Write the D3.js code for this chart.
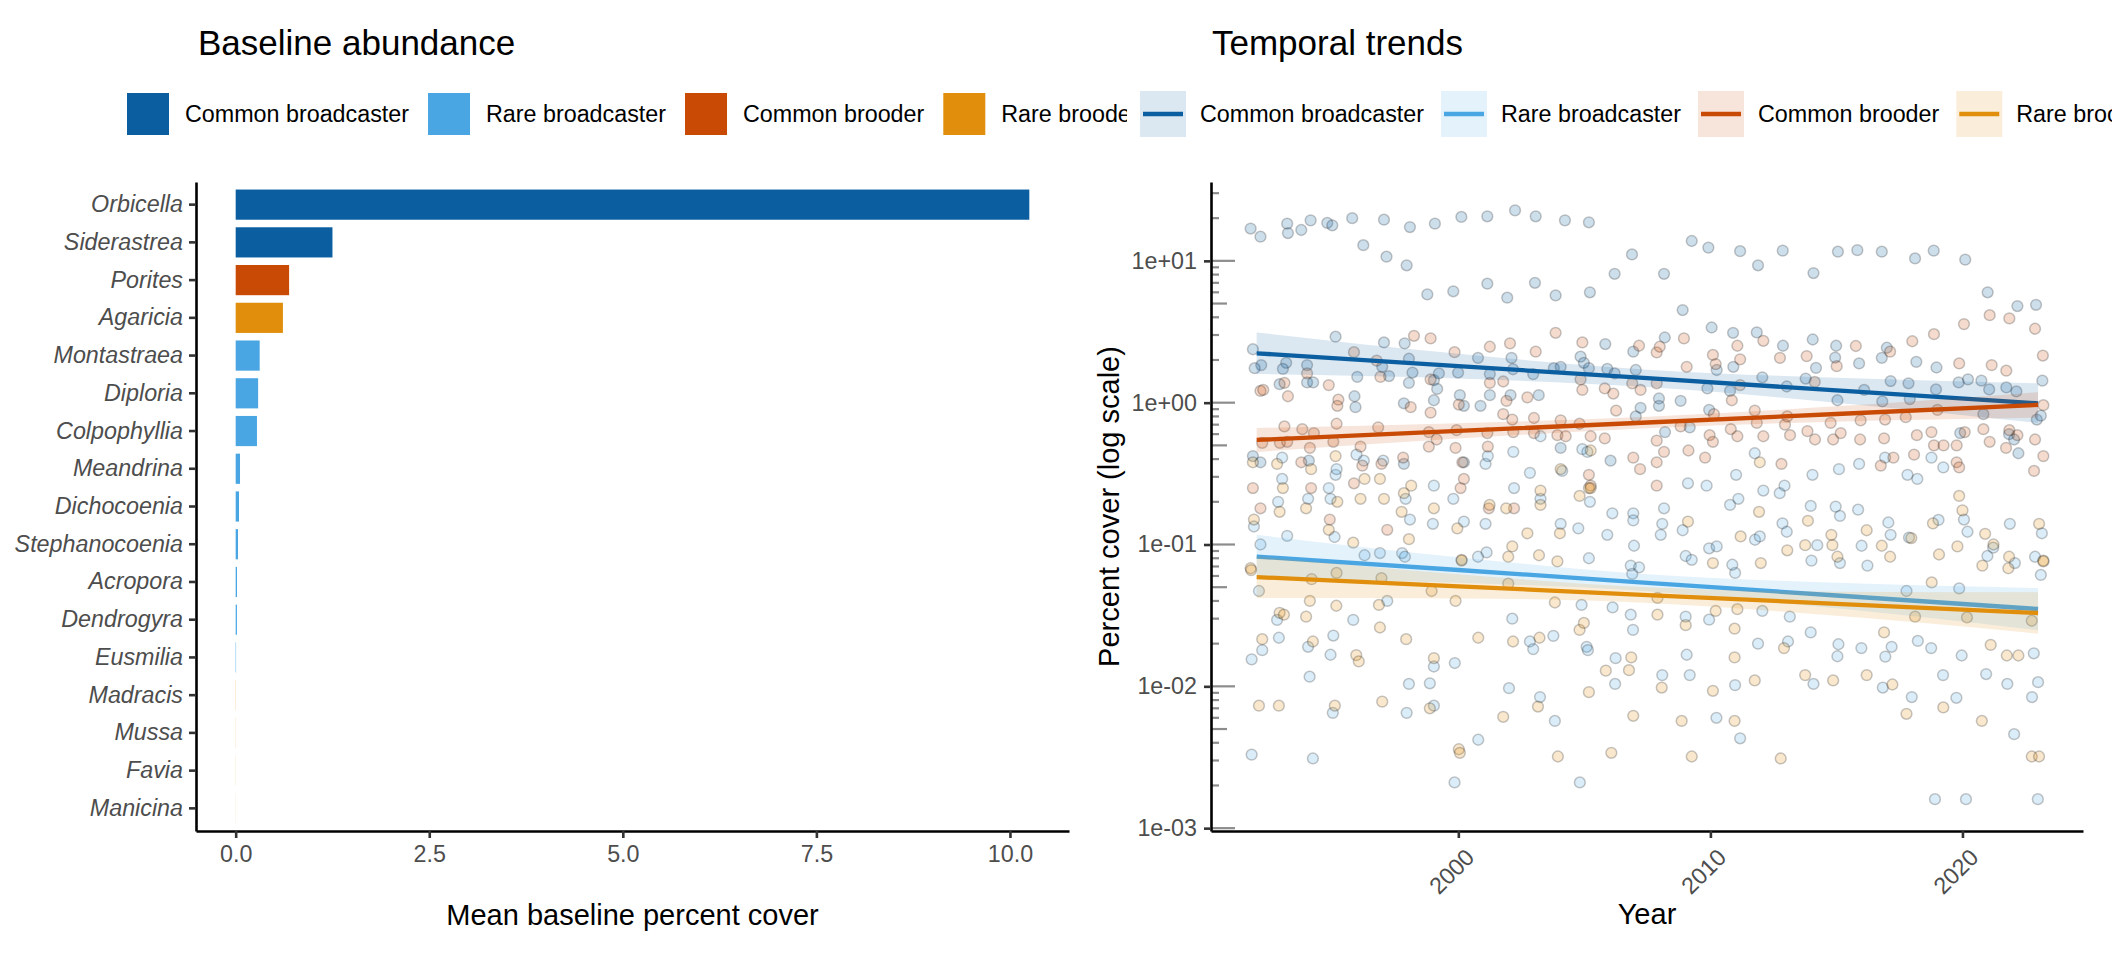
<!DOCTYPE html>
<html>
<head>
<meta charset="utf-8">
<script src="https://cdn.jsdelivr.net/npm/d3@7"></script>
<style>
  body { margin: 0; background: #fff; }
  text { font-family: "Liberation Sans", Arial, Helvetica, sans-serif; }
</style>
</head>
<body>
<svg id="chart"></svg>
<script>
// ---- data ----
var groups = ["Common broadcaster", "Rare broadcaster", "Common brooder", "Rare brooder"];

var genera = ["Orbicella", "Siderastrea", "Porites", "Agaricia", "Montastraea", "Diploria",
  "Colpophyllia", "Meandrina", "Dichocoenia", "Stephanocoenia", "Acropora", "Dendrogyra",
  "Eusmilia", "Madracis", "Mussa", "Favia", "Manicina"];
var baselineCover = [10.25, 1.25, 0.69, 0.61, 0.31, 0.29, 0.275, 0.056, 0.043, 0.03, 0.017,
  0.016, 0.005, 0.002, 0.0015, 0.0012, 0.001];
var generaGroup = ["Common broadcaster", "Common broadcaster", "Common brooder", "Rare brooder",
  "Rare broadcaster", "Rare broadcaster", "Rare broadcaster", "Rare broadcaster", "Rare broadcaster",
  "Rare broadcaster", "Rare broadcaster", "Rare broadcaster", "Rare broadcaster",
  "Rare brooder", "Rare brooder", "Rare brooder", "Rare brooder"];
var barTicks = [0, 2.5, 5, 7.5, 10];

// [year, percent cover]
var ptsCommonBroadcaster = [
  [1991.76,16.9],[1992.15,14.8],[1993.21,18.3],[1993.24,15.7],[1993.77,16.5],[1994.14,19.3],[1994.8,18.5],
  [1995.0,17.8],[1995.79,20.0],[1996.23,12.9],[1997.05,19.5],[1997.15,10.7],[1997.95,9.3],[1998.08,17.3],
  [1998.77,5.8],[1999.07,18.3],[1999.8,6.1],[2000.12,20.4],[2001.15,20.6],[2001.15,6.9],[2001.94,5.5],
  [2002.25,22.7],[2003.07,20.6],[2003.04,7.0],[2003.86,5.7],[2004.23,19.3],[2005.18,18.7],[2005.22,6.0],
  [2006.2,8.1],[2006.89,11.1],[2008.16,8.1],[2008.9,4.5],[2009.26,13.8],[2009.92,12.4],[2011.18,11.7],
  [2011.89,9.3],[2012.87,11.8],[2014.09,8.2],[2015.06,11.6],[2015.83,11.9],[2016.8,11.6],[2018.12,10.4],
  [2018.86,11.8],[2020.11,10.2],[2021.0,6.0],[2022.18,4.8],[2022.92,4.9],
  [1995.13,2.92],[1991.85,2.38],[1992.18,1.84],[1991.92,1.75],[1993.17,1.91],[1993.04,1.73],[1994.0,1.84],
  [1994.0,1.39],[1994.24,1.39],[1992.91,1.35],[1995.99,1.52],[1995.88,1.11],[1995.92,0.93],[1997.05,2.66],
  [1996.98,1.79],[1997.25,1.54],[1997.87,2.62],[1998.04,2.04],[1998.18,1.63],[1998.04,1.38],[1997.84,0.99],
  [1999.03,1.44],[1999.16,1.25],[1999.03,1.04],[1999.23,1.61],[1999.99,1.63],[2000.06,1.13],[2000.22,0.95],
  [2000.78,2.07],[2001.25,1.59],[2001.25,1.13],[2000.88,0.95],[2002.11,2.07],[2002.17,1.72],[2002.07,1.13],
  [2002.97,1.59],[2003.19,1.13],[2003.79,1.75],[2004.06,1.79],[2004.85,2.11],[2004.98,1.91],[2005.18,1.75],
  [1991.85,0.42],[1992.15,0.38],[1994.07,0.39],[1997.84,0.37],[2000.22,0.38],[2004.06,0.48],[2006.04,0.39],
  [2005.83,2.59],[2006.94,2.29],[2008.19,2.88],[2010.05,3.39],[2010.9,3.11],[2011.84,3.13],[2012.88,2.52],
  [2014.06,2.79],[2014.99,2.52],[2014.95,2.08],[2016.8,2.07],[2017.0,2.44],[2018.17,1.94],[2018.97,1.77],
  [2015.9,1.89],[2019.85,1.39],[2020.22,1.46],[2020.75,1.43],[2021.06,1.24],[2021.74,1.28],[2022.14,1.2],
  [2023.17,1.43],[2017.86,1.37],[2017.15,1.42],[2005.91,1.73],[2007.04,1.7],[2006.2,1.61],[2007.96,1.07],
  [2007.96,0.95],[2007.23,0.92],[2007.04,0.8],[2008.82,1.03],[2008.2,0.62],[2009.18,0.67],[2009.95,0.89],
  [2009.88,1.26],[2010.25,1.7],[2010.91,1.79],[2010.78,1.21],[2012.06,1.51],[2013.03,1.3],[2013.78,1.48],
  [2014.19,1.76],[2015.04,1.04],[2016.1,1.23],[2016.82,1.02],[2017.91,1.06],[2018.95,1.24],[2019.91,0.61],
  [2020.83,0.83],[2022.95,0.76],[2023.11,0.81],[2021.85,0.6],[2022.05,0.55],[2022.22,0.44]
];

var ptsRareBroadcaster = [
  [1992.85,0.2],[1994.04,0.21],[1994.86,0.25],[1994.93,0.21],[1997.91,0.21],[1999.03,0.26],[1999.8,0.21],
  [2002.21,0.25],[2003.26,0.21],[2005.22,0.2],[1993.21,0.115],[1995.09,0.113],[1998.08,0.15],[1998.99,0.14],
  [2000.22,0.145],[2001.08,0.14],[2004.06,0.14],[2004.76,0.13],[1991.89,0.134],[1992.15,0.1],[1993.01,0.29],
  [1993.01,0.41],[1995.13,0.31],[1996.28,0.084],[1996.89,0.087],[1997.77,0.087],[1997.88,0.082],[2001.12,0.088],
  [2000.78,0.082],[2005.18,0.08],[1995.96,0.43],[1996.25,0.39],[1997.02,0.39],[2001.08,0.37],[2001.17,0.42],
  [2002.18,0.45],[2002.84,0.32],[2003.26,0.58],[2004.12,0.33],[2004.92,0.47],[2005.12,0.45],[1995.17,0.34],
  [1992.09,0.047],[1992.81,0.0294],[1991.8,0.0155],[1992.22,0.018],[1992.88,0.022],[1994.04,0.019],
  [1994.1,0.0117],[1995.04,0.0228],[1994.93,0.0167],[1995.83,0.0294],[1995.02,0.0065],[1997.18,0.04],
  [1998.04,0.0104],[1997.95,0.0065],[1998.87,0.0105],[1999.03,0.0138],[1999.03,0.0073],[1999.86,0.0146],
  [2000.79,0.0042],[1999.85,0.0021],[2002.14,0.03],[2002.01,0.0097],[2002.84,0.0207],[2002.97,0.0183],
  [2003.24,0.0084],[2003.77,0.0227],[2003.83,0.0057],[2004.89,0.0375],[2005.09,0.019],[2005.14,0.018],
  [2004.82,0.0021],[1991.8,0.0033],[1994.23,0.0031],
  [2006.84,0.071],[2007.17,0.069],[2006.9,0.062],[2006.12,0.036],[2006.84,0.032],[2006.93,0.025],
  [2006.24,0.0158],[2006.22,0.0104],[2008.09,0.012],[2009.18,0.012],[2009.02,0.031],[2009.95,0.0295],
  [2009.06,0.0167],[2010.98,0.0102],[2010.24,0.006],[2011.18,0.0043],[2011.89,0.02],[2012.06,0.034],
  [2013.15,0.031],[2013.08,0.0207],[2013.98,0.024],[2014.09,0.0104],[2015.08,0.0198],[2015.04,0.0163],
  [2015.99,0.0186],[2017.19,0.019],[2016.94,0.0162],[2016.84,0.0098],[2017.99,0.0084],[2018.23,0.0209],
  [2018.76,0.0186],[2019.23,0.012],[2019.76,0.0083],[2019.97,0.0165],[2020.94,0.0122],[2021.78,0.0104],
  [2022.05,0.0046],[2022.76,0.0084],[2023.0,0.0107],[2022.83,0.0171],[2023.11,0.061],[2018.91,0.0016],
  [2020.14,0.0016],[2022.99,0.0016],[2019.87,0.049],[2017.78,0.047],[2014.01,0.077],[2015.14,0.074],
  [2016.23,0.071],[2010.98,0.063],[2010.87,0.072],
  [2006.11,0.166],[2006.94,0.166],[2006.94,0.148],[2005.91,0.117],[2006.97,0.098],[2008.16,0.18],
  [2008.09,0.14],[2008.03,0.117],[2008.9,0.126],[2009.02,0.083],[2009.26,0.078],[2009.95,0.094],
  [2010.25,0.097],[2010.78,0.19],[2011.77,0.108],[2011.96,0.114],[2012.86,0.141],[2013.03,0.123],
  [2013.98,0.187],[2014.24,0.099],[2014.97,0.185],[2015.14,0.159],[2015.86,0.176],[2016.0,0.098],
  [2017.06,0.143],[2017.15,0.117],[2017.88,0.112],[2019.05,0.149],[2020.06,0.15],[2020.2,0.123],
  [2021.22,0.095],[2020.99,0.083],[2021.88,0.14],[2022.08,0.074],[2022.88,0.082],[2023.15,0.12],
  [2014.05,0.31],[2015.1,0.34],[2015.9,0.37],[2016.93,0.41],[2017.82,0.31],[2018.21,0.29],[2018.77,0.41],
  [2019.24,0.35],[2011.76,0.44],[2011.02,0.31],[2012.94,0.26],[2012.75,0.23],[2012.1,0.24],[2011.11,0.21],
  [2009.11,0.27],[2009.85,0.26]
];

var ptsCommonBrooder = [
  [1998.24,2.96],[1998.9,2.84],[1995.86,2.27],[1999.85,2.27],[2001.25,2.48],[2002.05,2.62],[2003.07,2.29],
  [2003.86,3.11],[2004.92,2.66],[1996.76,1.98],[1996.91,1.52],[1994.0,1.61],[1993.1,1.38],[1994.86,1.33],
  [1992.15,1.21],[1992.26,1.23],[1993.24,1.11],[1995.24,1.05],[1995.2,0.95],[1998.9,1.46],[2001.25,1.38],
  [2001.78,1.41],[2001.91,1.03],[2002.74,1.09],[2004.85,1.46],[2004.92,1.23],[2000.02,0.97],[1998.11,0.93],
  [1998.9,0.85],[2001.78,0.83],[2002.14,0.76],[2003.0,0.78],[2004.06,0.75],[2004.81,0.71],[1993.1,0.68],
  [1993.81,0.65],[1994.27,0.61],[1995.17,0.71],[1996.82,0.67],[1998.83,0.62],[1999.93,0.64],[2001.15,0.61],
  [2002.18,0.62],[2003.0,0.61],[2003.93,0.59],[2004.26,0.58],[2005.25,0.58],[1992.22,0.52],[1992.92,0.52],
  [1993.21,0.53],[1994.11,0.48],[1995.04,0.53],[1996.12,0.49],[1997.81,0.41],[1998.83,0.49],[1999.14,0.55],
  [1999.89,0.48],[2001.17,0.49],[1993.77,0.38],[1996.19,0.36],[1996.95,0.37],[2000.16,0.38],[1991.85,0.25],
  [1992.15,0.18],[1994.16,0.25],[1995.86,0.27],[2000.09,0.25],[2000.22,0.29],[2001.21,0.18],[2002.21,0.18],
  [2005.18,0.31],[2005.25,0.26],[1994.9,0.15],[1997.18,0.127],
  [2007.17,2.52],[2007.87,2.26],[2007.99,2.48],[2008.95,2.84],[2009.06,1.79],[2010.1,2.17],[2010.21,1.87],
  [2011.07,2.52],[2011.18,2.02],[2012.1,2.73],[2012.76,2.07],[2013.82,2.13],[2015.01,1.81],[2015.77,2.51],
  [2017.13,2.29],[2018.01,2.71],[2018.87,3.04],[2020.06,3.58],[2019.87,1.89],[2021.08,4.14],[2021.16,1.84],
  [2021.74,1.68],[2021.86,3.93],[2022.88,3.32],[2023.19,2.15],[2023.21,0.96],[2005.81,1.26],[2006.15,1.16],
  [2006.9,1.37],[2007.23,1.23],[2007.87,1.37],[2006.26,0.88],[2005.81,0.56],[2006.94,0.41],[2007.21,0.34],
  [2007.87,0.54],[2007.87,0.38],[2008.16,0.45],[2007.87,0.26],[2008.82,0.68],[2009.13,0.46],[2009.79,0.41],
  [2009.97,0.59],[2010.14,0.83],[2010.1,0.53],[2010.81,0.65],[2011.07,0.58],[2010.85,1.04],[2011.18,1.33],
  [2011.76,0.88],[2011.84,0.72],[2012.1,0.58],[2012.82,0.37],[2012.96,0.7],[2013.16,0.59],[2013.05,0.8],
  [2013.85,0.63],[2014.15,0.55],[2014.14,1.4],[2014.77,0.72],[2014.87,0.55],[2015.17,0.61],[2015.96,0.75],
  [2015.94,0.55],[2016.76,0.36],[2016.89,0.56],[2016.93,0.76],[2017.26,0.41],[2017.75,0.79],[2018.08,0.43],
  [2018.19,0.59],[2018.77,0.62],[2019.01,0.89],[2018.87,0.5],[2019.25,0.5],[2019.77,0.5],[2019.77,0.38],
  [2019.87,0.35],[2020.09,0.62],[2020.83,0.65],[2021.08,0.53],[2021.73,0.48],[2021.86,0.64],[2022.18,0.59],
  [2022.88,0.55],[2023.21,0.42],[2022.84,0.33]
];

var ptsRareBrooder = [
  [1991.85,0.38],[1992.81,0.37],[1993.04,0.25],[1994.16,0.34],[1995.13,0.42],[1996.28,0.29],[1996.89,0.29],
  [1996.12,0.21],[1998.13,0.26],[1997.05,0.21],[1997.84,0.23],[1993.96,0.18],[1992.91,0.17],[1991.89,0.15],
  [1995.2,0.2],[1997.75,0.17],[1999.03,0.18],[1999.96,0.13],[2001.24,0.19],[2001.9,0.18],[2003.26,0.24],
  [2003.26,0.19],[2004.06,0.34],[2004.81,0.22],[2005.18,0.25],[1994.86,0.127],[1995.83,0.103],[1998.04,0.109],
  [2002.14,0.097],[2002.74,0.12],[2004.03,0.12],[2000.13,0.078],[2001.98,0.082],[2003.2,0.084],[2003.93,0.076],
  [1991.76,0.068],
  [1991.78,0.066],[1995.17,0.063],[1996.95,0.058],[1994.18,0.057],[1998.94,0.047],[2000.13,0.077],[1999.89,0.04],
  [2001.98,0.053],[2003.83,0.039],[1994.11,0.04],[1995.16,0.037],[1996.85,0.0375],[1992.91,0.033],[1993.08,0.032],
  [1993.96,0.031],[1994.23,0.0207],[1996.89,0.026],[1992.22,0.0215],[1997.93,0.0215],[2000.79,0.022],
  [2002.17,0.0207],[2003.22,0.022],[2004.81,0.025],[2004.98,0.028],[1995.95,0.0166],[1996.05,0.015],
  [1999.03,0.0158],[1992.09,0.0073],[1992.88,0.0073],[1995.1,0.0073],[1996.98,0.0078],[1998.87,0.007],
  [2005.18,0.0091],[2001.78,0.0061],[2003.16,0.0072],[2003.95,0.0032],[2000.02,0.0036],[2000.06,0.0034],
  [2005.85,0.0129],[2006.77,0.013],[2006.86,0.016],[2007.9,0.032],[2009.02,0.027],[2010.1,0.0093],
  [2010.96,0.016],[2010.96,0.0255],[2010.96,0.0057],[2011.76,0.011],[2012.92,0.0186],[2013.76,0.012],
  [2014.87,0.011],[2016.2,0.012],[2016.89,0.024],[2017.22,0.0103],[2017.78,0.0064],[2019.24,0.0071],
  [2020.77,0.0057],[2021.12,0.0196],[2021.76,0.0165],[2022.22,0.0165],[2020.18,0.0306],[2022.75,0.0032],
  [2023.04,0.0032],[2008.86,0.0057],[2009.26,0.0032],[2012.79,0.0031],[2006.07,0.0034],[2006.94,0.0062],
  [2008.07,0.0098],[2010.21,0.034],[2011.07,0.035],[2007.9,0.042],[2022.75,0.029],[2018.78,0.054],
  [2020.79,0.071],[2021.82,0.068],[2023.21,0.077],[2018.12,0.031],
  [2011.96,0.38],[2011.93,0.17],[2013.87,0.147],[2014.8,0.117],[2016.2,0.126],[2016.8,0.098],[2019.87,0.22],
  [2020.0,0.174],[2018.83,0.141],[2019.07,0.085],[2020.9,0.119],[2021.23,0.1],[2021.85,0.082],[2023.04,0.14],
  [2023.21,0.076],[2009.11,0.145],[2011.2,0.114],[2010.1,0.074],[2012.0,0.074],[2013.05,0.091],[2013.76,0.099],
  [2014.84,0.099],[2015.04,0.082],[2017.13,0.082],[2017.97,0.111],[2019.8,0.097],[2005.25,0.46],[2005.25,0.25]
];

// fitted trend (log-linear) with confidence band, read at these years
var trendYears = [1992, 2000, 2007.5, 2015, 2023];
var fitCommonBroadcaster = [2.23, 1.81, 1.49, 1.22, 0.99];
var loCommonBroadcaster  = [1.59, 1.48, 1.29, 1.00, 0.72];
var hiCommonBroadcaster  = [3.13, 2.21, 1.71, 1.50, 1.37];
var fitRareBroadcaster = [0.0822, 0.0661, 0.0537, 0.0437, 0.0351];
var loRareBroadcaster  = [0.0578, 0.0537, 0.0468, 0.0355, 0.0249];
var hiRareBroadcaster  = [0.117, 0.0813, 0.0617, 0.0537, 0.0493];
var fitCommonBrooder = [0.546, 0.632, 0.725, 0.832, 0.964];
var loCommonBrooder  = [0.449, 0.558, 0.661, 0.735, 0.783];
var hiCommonBrooder  = [0.664, 0.716, 0.795, 0.942, 1.186];
var fitRareBrooder = [0.0589, 0.0507, 0.0440, 0.0382, 0.0329];
var loRareBrooder  = [0.0419, 0.0417, 0.0387, 0.0314, 0.0235];
var hiRareBrooder  = [0.0828, 0.0617, 0.0499, 0.0465, 0.046];

var coverTicks = [0.001, 0.01, 0.1, 1, 10];
var yearTicks = [2000, 2010, 2020];

// ---- styles ----
var groupColors = ["#0B5EA0", "#4AA6E3", "#C94A05", "#E08E0B"];
var color = d3.scaleOrdinal().domain(groups).range(groupColors);
var tickFont = "23.3px", axisTitleFont = "29px", titleFont = "35px", tickGrey = "#4D4D4D";

var svg = d3.select("#chart").attr("width", 2112).attr("height", 960);

function styleAxis(g) {
  g.select(".domain").attr("stroke", "#000").attr("stroke-width", 2.6);
  g.selectAll(".tick line").attr("stroke", "#333").attr("stroke-width", 2.6);
  g.selectAll(".tick text").attr("fill", tickGrey).style("font-size", tickFont)
    .style("font-family", '"Liberation Sans", Arial, sans-serif');
}

function drawLegend(g, x0, yMid, kind) {
  var x = x0;
  groups.forEach(function(name) {
    var c = color(name);
    if (kind === "bar") {
      g.append("rect").attr("x", x + 2).attr("y", yMid - 21).attr("width", 42).attr("height", 42).attr("fill", c);
    } else {
      g.append("rect").attr("x", x).attr("y", yMid - 23).attr("width", 46).attr("height", 46)
        .attr("fill", c).attr("fill-opacity", 0.15);
      g.append("line").attr("x1", x + 3).attr("x2", x + 43).attr("y1", yMid).attr("y2", yMid)
        .attr("stroke", c).attr("stroke-width", 4.3);
    }
    var t = g.append("text").attr("x", x + 60).attr("y", yMid).attr("dy", "0.35em")
      .style("font-size", tickFont).attr("fill", "#000").text(name);
    x += 60 + t.node().getComputedTextLength() + 17;
  });
}

// ================= left panel: baseline abundance =================
var L = { left: 196, right: 1069, top: 182, bottom: 831 };
var maxCover = d3.max(baselineCover);
var xBar = d3.scaleLinear()
  .domain([-0.05 * maxCover, 1.05 * maxCover])
  .range([L.left, L.right]);
var yBar = d3.scaleBand()
  .domain(genera)
  .range([L.top, L.bottom])
  .paddingInner(0.2)
  .paddingOuter(0.2);

svg.append("defs").append("clipPath").attr("id", "leftClip")
  .append("rect").attr("x", 0).attr("y", 0).attr("width", 1127).attr("height", 960);

var leftG = svg.append("g").attr("clip-path", "url(#leftClip)");

leftG.append("text").attr("x", 198).attr("y", 55).style("font-size", titleFont)
  .attr("fill", "#000").text("Baseline abundance");
drawLegend(leftG.append("g"), 125, 114, "bar");

leftG.append("g").selectAll("rect")
  .data(genera.map(function(g, i) { return { genus: g, value: baselineCover[i], group: generaGroup[i] }; }))
  .enter().append("rect")
  .attr("x", xBar(0))
  .attr("y", function(d) { return yBar(d.genus); })
  .attr("width", function(d) { return xBar(d.value) - xBar(0); })
  .attr("height", yBar.bandwidth())
  .attr("fill", function(d) { return color(d.group); });

var xAxisL = leftG.append("g").attr("transform", "translate(0," + L.bottom + ")")
  .call(d3.axisBottom(xBar).tickValues(barTicks).tickFormat(d3.format(".1f"))
    .tickSize(7).tickSizeOuter(0).tickPadding(7));
styleAxis(xAxisL);

var yAxisL = leftG.append("g").attr("transform", "translate(" + L.left + ",0)")
  .call(d3.axisLeft(yBar).tickSize(7).tickSizeOuter(0).tickPadding(6));
styleAxis(yAxisL);
yAxisL.selectAll(".tick text").style("font-style", "italic");

leftG.append("text").attr("x", (L.left + L.right) / 2).attr("y", 925)
  .attr("text-anchor", "middle").style("font-size", axisTitleFont).attr("fill", "#000")
  .text("Mean baseline percent cover");

// ================= right panel: temporal trends =================
var R = { left: 1211, right: 2083, top: 182, bottom: 831 };
var series = [
  { name: groups[0], pts: ptsCommonBroadcaster, fit: fitCommonBroadcaster, lo: loCommonBroadcaster, hi: hiCommonBroadcaster },
  { name: groups[1], pts: ptsRareBroadcaster, fit: fitRareBroadcaster, lo: loRareBroadcaster, hi: hiRareBroadcaster },
  { name: groups[2], pts: ptsCommonBrooder, fit: fitCommonBrooder, lo: loCommonBrooder, hi: hiCommonBrooder },
  { name: groups[3], pts: ptsRareBrooder, fit: fitRareBrooder, lo: loRareBrooder, hi: hiRareBrooder }
];

var allYears = [];
series.forEach(function(s) { s.pts.forEach(function(p) { allYears.push(p[0]); }); });
var yrExt = d3.extent(allYears);
var yrPad = 0.05 * (yrExt[1] - yrExt[0]);
var xYear = d3.scaleLinear().domain([yrExt[0] - yrPad, yrExt[1] + yrPad]).range([R.left, R.right]);
var yCover = d3.scaleLog().domain([0.000955, 35.97]).range([R.bottom, R.top]);

var rightG = svg.append("g");
rightG.append("text").attr("x", 1212).attr("y", 55).style("font-size", titleFont)
  .attr("fill", "#000").text("Temporal trends");
drawLegend(rightG.append("g"), 1140, 114, "line");

// points
series.forEach(function(s) {
  rightG.append("g").selectAll("circle").data(s.pts).enter().append("circle")
    .attr("cx", function(d) { return xYear(d[0]); })
    .attr("cy", function(d) { return yCover(d[1]); })
    .attr("r", 5.4)
    .attr("fill", color(s.name)).attr("fill-opacity", 0.2)
    .attr("stroke", "#000").attr("stroke-opacity", 0.22).attr("stroke-width", 1.5);
});

// ribbons + trend lines
series.forEach(function(s) {
  var rows = trendYears.map(function(yr, i) { return { year: yr, fit: s.fit[i], lo: s.lo[i], hi: s.hi[i] }; });
  rightG.append("path").datum(rows)
    .attr("d", d3.area().curve(d3.curveMonotoneX)
      .x(function(d) { return xYear(d.year); })
      .y0(function(d) { return yCover(d.lo); })
      .y1(function(d) { return yCover(d.hi); }))
    .attr("fill", color(s.name)).attr("fill-opacity", 0.15);
  rightG.append("path").datum(rows)
    .attr("d", d3.line().x(function(d) { return xYear(d.year); }).y(function(d) { return yCover(d.fit); }))
    .attr("fill", "none").attr("stroke", color(s.name)).attr("stroke-width", 4.3);
});

// log ticks inside the panel
var logTicks = [];
d3.range(-3, 2).forEach(function(k) {
  d3.range(1, 10).forEach(function(m) {
    var v = m * Math.pow(10, k);
    if (v >= yCover.domain()[0] && v <= yCover.domain()[1]) logTicks.push({ v: v, m: m });
  });
});
rightG.append("g").selectAll("line").data(logTicks).enter().append("line")
  .attr("x1", R.left)
  .attr("x2", function(d) { return R.left + (d.m === 1 ? 24 : d.m === 5 ? 16 : 8); })
  .attr("y1", function(d) { return yCover(d.v); })
  .attr("y2", function(d) { return yCover(d.v); })
  .attr("stroke", "#8c8c8c").attr("stroke-width", 2.2);

function sciFormat(d) {
  var e = Math.round(Math.log10(d));
  return "1e" + (e < 0 ? "-" : "+") + String(Math.abs(e)).padStart(2, "0");
}

var yAxisR = rightG.append("g").attr("transform", "translate(" + R.left + ",0)")
  .call(d3.axisLeft(yCover).tickValues(coverTicks).tickFormat(sciFormat)
    .tickSize(7).tickSizeOuter(0).tickPadding(7));
styleAxis(yAxisR);

var xAxisR = rightG.append("g").attr("transform", "translate(0," + R.bottom + ")")
  .call(d3.axisBottom(xYear).tickValues(yearTicks).tickFormat(d3.format("d"))
    .tickSize(7).tickSizeOuter(0));
styleAxis(xAxisR);
xAxisR.selectAll(".tick text")
  .attr("x", null).attr("y", null).attr("dy", null)
  .attr("text-anchor", "end")
  .attr("dominant-baseline", "hanging")
  .attr("transform", "translate(5,16) rotate(-45)");

rightG.append("text")
  .attr("transform", "translate(1119," + (R.top + R.bottom) / 2 + ") rotate(-90)")
  .attr("text-anchor", "middle").style("font-size", axisTitleFont).attr("fill", "#000")
  .text("Percent cover (log scale)");

rightG.append("text").attr("x", (R.left + R.right) / 2).attr("y", 924)
  .attr("text-anchor", "middle").style("font-size", axisTitleFont).attr("fill", "#000")
  .text("Year");
</script>
</body>
</html>
